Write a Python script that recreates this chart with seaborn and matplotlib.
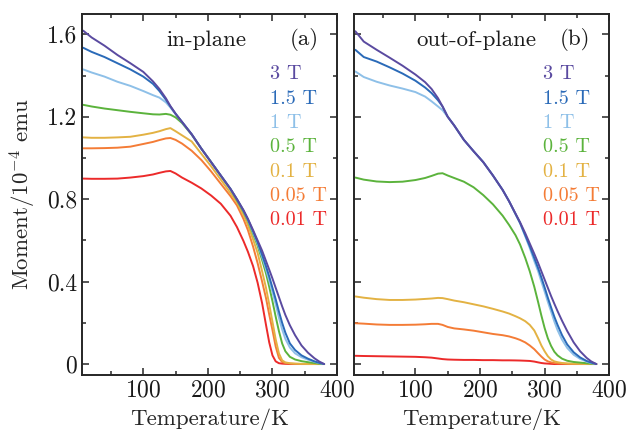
import numpy as np
import pandas as pd
import seaborn as sns
import matplotlib
matplotlib.use("Agg")
import matplotlib.pyplot as plt
from matplotlib.ticker import MultipleLocator, FuncFormatter

# DATA
fields = ["0.01 T", "0.05 T", "0.1 T", "0.5 T", "1 T", "1.5 T", "3 T"]
colors = ["#ec2a2a", "#f47c36", "#e3b243", "#5bb33c", "#8ec0e8", "#2a6ab8", "#5a4aa0"]

temperature = [7, 20, 40, 60, 80, 100, 115, 125, 135, 142, 150, 160, 175, 190, 205, 220, 235,
               245, 255, 262, 270, 277, 284, 290, 295, 300, 305, 310, 315, 320, 327, 335, 345, 355, 365, 372, 380]

# in-plane
ip_3T = [1.618, 1.585, 1.545, 1.50, 1.46, 1.418, 1.372, 1.335, 1.29, 1.252, 1.215, 1.175, 1.115, 1.045, 0.98, 0.915, 0.85,
         0.80, 0.748, 0.705, 0.65, 0.60, 0.55, 0.50, 0.458, 0.415, 0.37, 0.325, 0.28, 0.238, 0.188, 0.14, 0.09, 0.055, 0.028, 0.013, 0.0]
ip_1p5T = [1.535, 1.515, 1.49, 1.46, 1.43, 1.395, 1.36, 1.325, 1.283, 1.25, 1.215, 1.175, 1.115, 1.045, 0.98, 0.915, 0.85,
           0.80, 0.745, 0.702, 0.645, 0.592, 0.53, 0.475, 0.425, 0.37, 0.315, 0.255, 0.20, 0.152, 0.10, 0.068, 0.042, 0.026, 0.013, 0.006, 0.0]
ip_1T = [1.43, 1.415, 1.395, 1.37, 1.35, 1.325, 1.305, 1.293, 1.27, 1.245, 1.213, 1.175, 1.115, 1.045, 0.98, 0.915, 0.85,
         0.80, 0.745, 0.70, 0.64, 0.585, 0.52, 0.46, 0.405, 0.35, 0.29, 0.225, 0.168, 0.122, 0.08, 0.052, 0.033, 0.021, 0.011, 0.005, 0.0]
ip_0p5T = [1.258, 1.25, 1.24, 1.232, 1.224, 1.217, 1.212, 1.211, 1.214, 1.21, 1.197, 1.17, 1.113, 1.045, 0.98, 0.913, 0.848,
           0.795, 0.74, 0.695, 0.632, 0.575, 0.505, 0.44, 0.375, 0.305, 0.23, 0.16, 0.10, 0.062, 0.035, 0.022, 0.014, 0.009, 0.005, 0.002, 0.0]
ip_0p1T = [1.10, 1.098, 1.098, 1.10, 1.103, 1.113, 1.122, 1.13, 1.14, 1.145, 1.13, 1.11, 1.08, 1.02, 0.96, 0.895, 0.83,
           0.785, 0.725, 0.675, 0.605, 0.54, 0.45, 0.37, 0.29, 0.205, 0.12, 0.052, 0.018, 0.008, 0.004, 0.002, 0.001, 0.0, 0.0, 0.0, 0.0]
ip_0p05T = [1.047, 1.047, 1.048, 1.05, 1.055, 1.068, 1.078, 1.087, 1.095, 1.097, 1.088, 1.07, 1.035, 0.99, 0.935, 0.875, 0.815,
            0.77, 0.705, 0.65, 0.57, 0.49, 0.40, 0.32, 0.24, 0.165, 0.085, 0.03, 0.01, 0.004, 0.002, 0.001, 0.0, 0.0, 0.0, 0.0, 0.0]
ip_0p01T = [0.90, 0.899, 0.899, 0.90, 0.905, 0.912, 0.92, 0.928, 0.935, 0.937, 0.925, 0.905, 0.88, 0.852, 0.818, 0.778, 0.72,
            0.665, 0.598, 0.545, 0.475, 0.395, 0.295, 0.19, 0.105, 0.042, 0.013, 0.004, 0.002, 0.001, 0.0, 0.0, 0.0, 0.0, 0.0, 0.0, 0.0]

# out-of-plane
op_3T = [1.615, 1.565, 1.525, 1.487, 1.448, 1.405, 1.368, 1.335, 1.29, 1.25, 1.2, 1.158, 1.088, 1.033, 0.98, 0.915, 0.845,
         0.79, 0.73, 0.688, 0.635, 0.585, 0.535, 0.49, 0.45, 0.41, 0.37, 0.33, 0.293, 0.257, 0.21, 0.16, 0.105, 0.062, 0.03, 0.013, 0.0]
op_1p5T = [1.525, 1.49, 1.468, 1.44, 1.41, 1.375, 1.342, 1.315, 1.28, 1.25, 1.2, 1.158, 1.088, 1.033, 0.98, 0.915, 0.845,
           0.79, 0.728, 0.685, 0.625, 0.572, 0.515, 0.465, 0.42, 0.372, 0.322, 0.275, 0.23, 0.19, 0.14, 0.095, 0.057, 0.032, 0.015, 0.007, 0.0]
op_1T = [1.42, 1.393, 1.37, 1.352, 1.337, 1.32, 1.298, 1.275, 1.25, 1.232, 1.2, 1.158, 1.088, 1.033, 0.98, 0.915, 0.845,
         0.79, 0.727, 0.683, 0.62, 0.563, 0.50, 0.45, 0.40, 0.352, 0.302, 0.255, 0.207, 0.165, 0.118, 0.078, 0.045, 0.025, 0.012, 0.005, 0.0]
op_0p5T = [0.905, 0.895, 0.886, 0.883, 0.885, 0.893, 0.903, 0.913, 0.924, 0.926, 0.915, 0.903, 0.885, 0.858, 0.82, 0.775, 0.72,
           0.675, 0.625, 0.58, 0.515, 0.45, 0.375, 0.30, 0.235, 0.175, 0.125, 0.088, 0.06, 0.042, 0.026, 0.016, 0.01, 0.007, 0.004, 0.002, 0.0]
op_0p1T = [0.328, 0.322, 0.315, 0.311, 0.311, 0.313, 0.316, 0.318, 0.321, 0.32, 0.315, 0.308, 0.30, 0.29, 0.28, 0.268, 0.255,
           0.245, 0.232, 0.222, 0.208, 0.19, 0.163, 0.125, 0.09, 0.062, 0.038, 0.022, 0.013, 0.009, 0.005, 0.003, 0.002, 0.001, 0.0005, 0.0, 0.0]
op_0p05T = [0.198, 0.196, 0.192, 0.19, 0.19, 0.191, 0.193, 0.195, 0.195, 0.19, 0.18, 0.173, 0.168, 0.162, 0.154, 0.146, 0.14,
            0.134, 0.125, 0.117, 0.105, 0.09, 0.072, 0.052, 0.036, 0.022, 0.013, 0.008, 0.005, 0.003, 0.002, 0.001, 0.0, 0.0, 0.0, 0.0, 0.0]
op_0p01T = [0.04, 0.039, 0.038, 0.037, 0.036, 0.035, 0.033, 0.031, 0.027, 0.024, 0.022, 0.021, 0.02, 0.02, 0.019, 0.019, 0.018,
            0.018, 0.0175, 0.017, 0.016, 0.015, 0.012, 0.008, 0.005, 0.003, 0.002, 0.001, 0.0, 0.0, 0.0, 0.0, 0.0, 0.0, 0.0, 0.0, 0.0]

in_plane = [ip_0p01T, ip_0p05T, ip_0p1T, ip_0p5T, ip_1T, ip_1p5T, ip_3T]
out_plane = [op_0p01T, op_0p05T, op_0p1T, op_0p5T, op_1T, op_1p5T, op_3T]


def long_frame(series):
    frames = []
    for name, vals in zip(fields, series):
        frames.append(pd.DataFrame({"T": temperature, "M": vals, "field": name}))
    return pd.concat(frames, ignore_index=True)


# PLOT SETTING
sns.set_style("ticks")
plt.rcParams["font.family"] = ["cmr10", "DejaVu Serif"]
plt.rcParams["mathtext.fontset"] = "cm"
plt.rcParams["axes.formatter.use_mathtext"] = True
plt.rcParams["axes.unicode_minus"] = False
plt.rcParams["text.color"] = "#1a1a1a"

palette = dict(zip(fields, colors))
fig = plt.figure(figsize=(6.3, 4.3), dpi=100)
ax_a = fig.add_axes([0.130, 0.128, 0.405, 0.840])
ax_b = fig.add_axes([0.562, 0.128, 0.405, 0.840])

fmt = FuncFormatter(lambda v, p: "0" if abs(v) < 1e-9 else "{:.1f}".format(v))

panels = [(ax_a, in_plane, "in-plane", 0.486, "(a)", 0.871, 0.737),
          (ax_b, out_plane, "out-of-plane", 0.48, "(b)", 0.867, 0.741)]

for ax, series, title, tx, tag, gx, lx in panels:
    df = long_frame(series)
    sns.lineplot(data=df, x="T", y="M", hue="field", hue_order=fields, palette=palette,
                 legend=False, linewidth=1.4, ax=ax)
    ax.set_xlim(5, 400)
    ax.set_ylim(-0.053, 1.70)
    ax.xaxis.set_major_locator(MultipleLocator(100))
    ax.xaxis.set_minor_locator(MultipleLocator(50))
    ax.yaxis.set_major_locator(MultipleLocator(0.4))
    ax.yaxis.set_minor_locator(MultipleLocator(0.2))
    ax.yaxis.set_major_formatter(fmt)
    ax.tick_params(which="both", direction="in", top=True, right=True, labelsize=17, width=1.1,
                   labelcolor="#1a1a1a")
    ax.tick_params(which="major", length=5)
    ax.tick_params(which="minor", length=3)
    for s in ax.spines.values():
        s.set_linewidth(1.4)
    ax.set_xlabel("Temperature/K", fontsize=16.5, labelpad=5)
    ax.text(tx, 0.928, title, transform=ax.transAxes, ha="center", va="center", fontsize=16.5)
    ax.text(gx, 0.928, tag, transform=ax.transAxes, ha="center", va="center", fontsize=16.5)
    for i, (name, c) in enumerate(zip(fields[::-1], colors[::-1])):
        ax.text(lx, 0.832 - i * 0.0673, name, transform=ax.transAxes,
                ha="left", va="center", color=c, fontsize=14.5)

ax_a.set_ylabel("Moment/$10^{-4}$ emu", fontsize=16.5, labelpad=6)
ax_b.set_ylabel("")
ax_b.tick_params(labelleft=False)

plt.savefig("out.png", dpi=100)
plt.close()
